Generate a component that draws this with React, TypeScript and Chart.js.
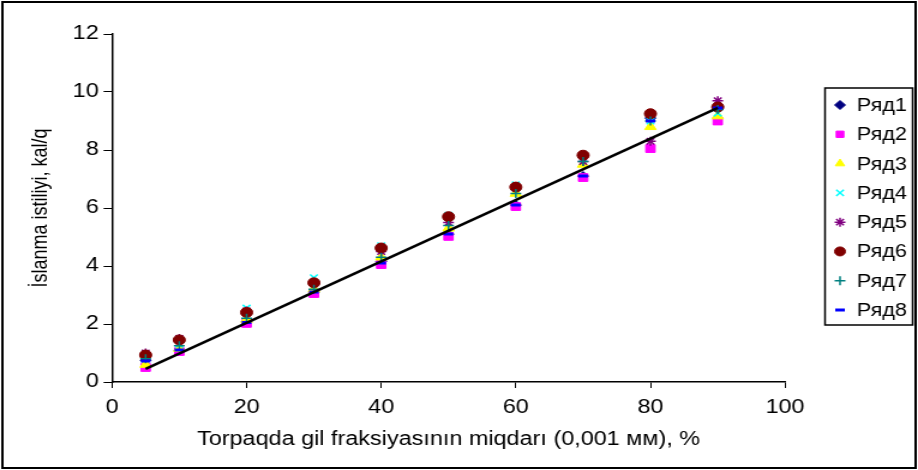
import React, { useEffect, useRef } from 'react';
import { Chart, registerables, PointElement } from 'chart.js';

Chart.register(...registerables);

// ---- data ----
const X_VALUES = [5, 10, 20, 30, 40, 50, 60, 70, 80, 90];
const SERIES_NAMES = ['Ряд1', 'Ряд2', 'Ряд3', 'Ряд4', 'Ряд5', 'Ряд6', 'Ряд7', 'Ряд8'];
const S1 = [0.75, 1.1, 2.1, 3.1, 4.15, 5.1, 6.1, 7.1, 9.1, 9.5];
const S2 = [0.5, 1.05, 2.02, 3.05, 4.05, 5.02, 6.05, 7.05, 8.05, 9.0];
const S3 = [0.6, 1.15, 2.15, 3.2, 4.3, 5.3, 6.5, 7.5, 8.8, 9.17];
const S4 = [0.8, 1.3, 2.55, 3.6, 4.7, 5.75, 6.8, 7.7, 9.0, 9.27];
const S5 = [1.0, 1.5, 2.45, 3.4, 4.5, 5.5, 6.7, 7.6, 8.3, 9.7];
const S6 = [0.93, 1.45, 2.4, 3.42, 4.62, 5.7, 6.72, 7.82, 9.25, 9.48];
const S7 = [0.8, 1.25, 2.2, 3.2, 4.3, 5.4, 6.5, 7.6, 9.0, 9.4];
const S8 = [0.72, 1.1, 2.05, 3.1, 4.1, 5.1, 6.1, 7.1, 9.0, 9.45];
const TREND_X = [5, 90];
const TREND_Y = [0.45, 9.45];
const X_TICK_MIN = 0, X_TICK_MAX = 100, X_TICK_STEP = 20;
const Y_TICK_MIN = 0, Y_TICK_MAX = 12, Y_TICK_STEP = 2;
const X_TITLE = 'Torpaqda gil fraksiyasının miqdarı (0,001 мм), %';
const Y_TITLE = 'İslanma istiliyi, kal/q';

// ---- styles ----
const W = 765;
const H = 470;
const SCALE_X = 918 / W;
const FONT_FAMILY = "'Liberation Sans', Arial, sans-serif";

const STYLES = [
  { color: '#000080', pointStyle: 'rectRot', radius: 4.5, borderWidth: 1 },
  { color: '#FF00FF', pointStyle: 'rect', radius: 5.5, borderWidth: 1 },
  { color: '#FFFF00', pointStyle: 'triangle', radius: 5.5, borderWidth: 1 },
  { color: '#00FFFF', pointStyle: 'crossRot', radius: 4.5, borderWidth: 1.5 },
  { color: '#800080', pointStyle: 'star', radius: 4.5, borderWidth: 1.5 },
  { color: '#800000', pointStyle: 'circle', radius: 5, borderWidth: 1 },
  { color: '#008080', pointStyle: 'cross', radius: 4.5, borderWidth: 1.5 },
  { color: '#0000FF', pointStyle: 'line', radius: 4, borderWidth: 3 },
];

export default function App() {
  const ref = useRef<HTMLCanvasElement>(null);

  useEffect(() => {
    if (!ref.current) return;
    const values = [S1, S2, S3, S4, S5, S6, S7, S8];
    const datasets: any[] = values.map((vals, i) => {
      const st = STYLES[i];
      return {
        label: SERIES_NAMES[i],
        data: vals.map((v, j) => ({ x: X_VALUES[j], y: v })),
        showLine: false,
        pointStyle: st.pointStyle,
        pointRadius: st.radius,
        pointBorderWidth: st.borderWidth,
        pointBackgroundColor: st.color,
        pointBorderColor: st.color,
        order: 10 - i,
      };
    });
    datasets.push({
      label: 'trend',
      data: TREND_X.map((x, j) => ({ x, y: TREND_Y[j] })),
      showLine: true,
      borderColor: '#000',
      borderWidth: 2.5,
      pointRadius: 0,
      order: 0,
    });

    const frame = {
      id: 'frame',
      beforeDraw(chart: any) {
        const ctx = chart.ctx;
        ctx.save();
        ctx.fillStyle = '#fff';
        ctx.fillRect(0, 0, chart.width, chart.height);
        ctx.strokeStyle = '#000';
        ctx.lineWidth = 2;
        ctx.strokeRect(2, 2, chart.width - 4, chart.height - 4);
        ctx.restore();
      },
      afterDraw(chart: any) {
        const ctx = chart.ctx;
        const boxL = 687.5, boxT = 88, boxR = 760.5, boxB = 325;
        ctx.save();
        ctx.strokeStyle = '#000';
        ctx.lineWidth = 1.5;
        ctx.strokeRect(boxL, boxT, boxR - boxL, boxB - boxT);
        ctx.font = `18px ${FONT_FAMILY}`;
        ctx.fillStyle = '#000';
        ctx.textBaseline = 'middle';
        ctx.textAlign = 'left';
        const step = (310 - 105) / 7;
        SERIES_NAMES.forEach((name, i) => {
          const y = 105 + i * step;
          const st = STYLES[i];
          const p: any = new (PointElement as any)({
            x: 700,
            y,
            options: {
              pointStyle: st.pointStyle,
              rotation: 0,
              radius: Math.min(st.radius, 4.5),
              borderWidth: st.borderWidth,
              backgroundColor: st.color,
              borderColor: st.color,
            },
          });
          p.draw(ctx);
          ctx.fillStyle = '#000';
          ctx.fillText(name, 714, y + 1);
        });
        ctx.restore();
      },
    };

    const tickFont = { family: FONT_FAMILY, size: 19.5 };
    const xTitleFont = { family: FONT_FAMILY, size: 19.5 };
    const yTitleFont = { family: FONT_FAMILY, size: 18 };
    const chart = new Chart(ref.current, {
      type: 'scatter',
      data: { datasets },
      plugins: [frame],
      options: {
        responsive: false,
        animation: false,
        devicePixelRatio: 1,
        layout: { padding: { top: 34, right: W - 654.2, bottom: 0, left: 0 } },
        plugins: { legend: { display: false }, tooltip: { enabled: false } },
        scales: {
          x: {
            type: 'linear',
            min: X_TICK_MIN,
            max: X_TICK_MAX,
            ticks: { stepSize: X_TICK_STEP, font: tickFont, color: '#000', padding: 8, maxRotation: 0 },
            grid: { drawOnChartArea: false, drawTicks: true, tickLength: 6, color: '#000', lineWidth: 1 },
            border: { display: true, color: '#000', width: 1.5 },
            title: { display: true, text: X_TITLE, font: xTitleFont, color: '#000', padding: { top: 0, bottom: 19 } },
            afterFit: (s: any) => { s.height = 88; },
          },
          y: {
            type: 'linear',
            min: Y_TICK_MIN,
            max: Y_TICK_MAX,
            ticks: { stepSize: Y_TICK_STEP, font: tickFont, color: '#000', padding: 4 },
            grid: { drawOnChartArea: false, drawTicks: true, tickLength: 7, color: '#000', lineWidth: 1 },
            border: { display: true, color: '#000', width: 1.5 },
            title: { display: true, text: Y_TITLE, font: yTitleFont, color: '#000', padding: { top: 23, bottom: 0 } },
            afterFit: (s: any) => { s.width = 93.3; },
          },
        },
      } as any,
    });
    return () => chart.destroy();
  }, []);

  return (
    <div style={{ position: 'fixed', left: 0, top: 0, width: 918, height: H, overflow: 'hidden', background: '#fff' }}>
      <div style={{ width: W, height: H, transform: `scaleX(${SCALE_X})`, transformOrigin: '0 0' }}>
        <canvas ref={ref} width={W} height={H} style={{ display: 'block', width: W, height: H }} />
      </div>
    </div>
  );
}
